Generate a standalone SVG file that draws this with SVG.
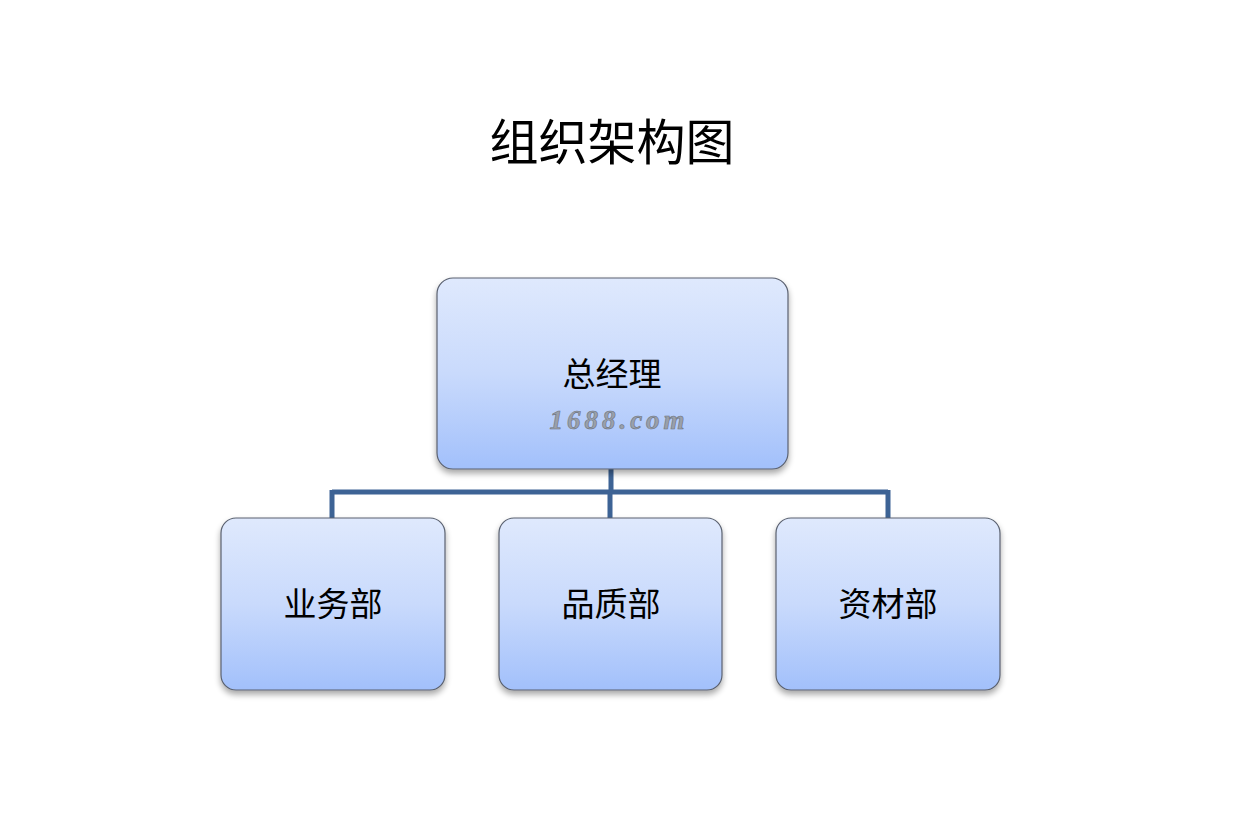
<svg xmlns="http://www.w3.org/2000/svg" width="1233" height="836" viewBox="0 0 1233 836">
<defs>
<linearGradient id="g" x1="0" y1="0" x2="0" y2="1">
<stop offset="0" stop-color="#dfe9fd"/>
<stop offset="0.5" stop-color="#c9dafc"/>
<stop offset="1" stop-color="#a2c0fb"/>
</linearGradient>
<filter id="sh" x="-10%" y="-10%" width="120%" height="130%">
<feGaussianBlur in="SourceAlpha" stdDeviation="3"/>
<feOffset dx="0" dy="4" result="b"/>
<feComponentTransfer><feFuncA type="linear" slope="0.35"/></feComponentTransfer>
<feMerge><feMergeNode/><feMergeNode in="SourceGraphic"/></feMerge>
</filter>
</defs>
<style>
.box{fill:url(#g);stroke:#5a6170;stroke-width:1.2;filter:url(#sh)}
.t{font-family:"Noto Sans CJK SC","Noto Sans",sans-serif;font-size:33px;fill:#000;text-anchor:middle}
.title{font-family:"Noto Sans CJK SC","Noto Sans",sans-serif;font-size:49px;fill:#000;text-anchor:middle}
.wm{font-family:"Liberation Serif",serif;font-style:italic;font-weight:bold;font-size:27px;fill:#9aa0aa;stroke:#6d7480;stroke-width:0.6;text-anchor:middle;letter-spacing:4px}
.c{fill:none;stroke:#3d6395;stroke-width:5}
</style>
<rect width="1233" height="836" fill="#fff"/>
<text class="title" x="612" y="160">组织架构图</text>
<g id="connectors">
<path class="c" d="M611 469 V492 M332 492 H888 M332 490 V518 M610 492 V518 M888 490 V518"/>
</g>
<g id="n0">
<rect class="box" x="437" y="278" width="351" height="191" rx="16"/>
<text class="t" x="612" y="386">总经理</text>
<text class="wm" x="619" y="429">1688.com</text>
</g>
<g id="n1">
<rect class="box" x="221" y="518" width="224" height="172" rx="15"/>
<text class="t" x="333" y="616">业务部</text>
</g>
<g id="n2">
<rect class="box" x="499" y="518" width="223" height="172" rx="15"/>
<text class="t" x="611" y="616">品质部</text>
</g>
<g id="n3">
<rect class="box" x="776" y="518" width="224" height="172" rx="15"/>
<text class="t" x="888" y="616">资材部</text>
</g>
</svg>
